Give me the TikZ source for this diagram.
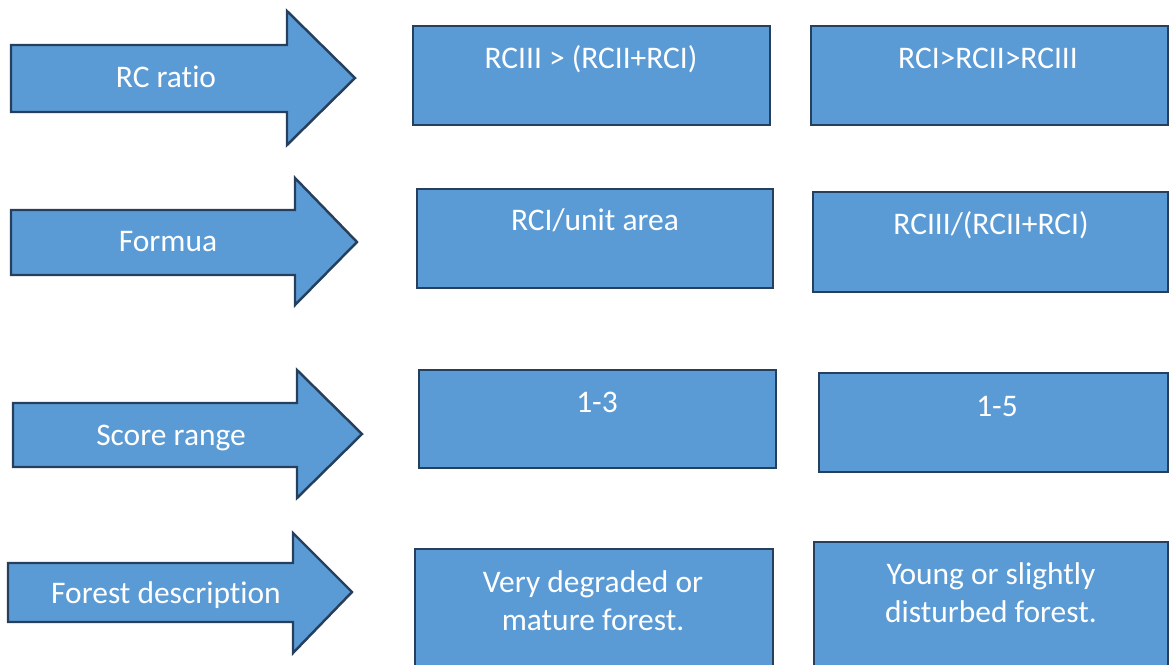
\documentclass[tikz,border=0pt]{standalone}
\usepackage{fontspec}
\setmainfont{Carlito}[Ligatures=NoCommon]
\usepackage{xcolor}
\usepackage{tikz}
\usetikzlibrary{fit}

\definecolor{shapeblue}{HTML}{5B9BD5}
\definecolor{shapeline}{HTML}{253F5C}

\begin{document}
\begin{tikzpicture}[x=0.02cm, y=-0.02cm]
\tikzset{
	arrow shape/.style = {draw = shapeline, fill = shapeblue, line width = 1.4pt, line join = miter},
	blue box/.style = {draw = shapeline, fill = shapeblue, line width = 1.4pt, inner sep = 0},
	white text/.style = {text = white, inner sep = 0, font = \fontsize{17.9}{21.6}\selectfont},
}

\useasboundingbox (0,0) rectangle (1171,664);
\clip (0,0) rectangle (1171,664);

% arrows on the left
\draw [arrow shape] (11,45) -- (287,45) -- (287,11) -- (355,78) -- (287,145) -- (287,112) -- (11,112) -- cycle;
\draw [arrow shape] (11,210) -- (295,210) -- (295,178) -- (357,242) -- (295,305) -- (295,275) -- (11,275) -- cycle;
\draw [arrow shape] (13,403) -- (297,403) -- (297,370) -- (362,434) -- (297,498) -- (297,467) -- (13,467) -- cycle;
\draw [arrow shape] (8,563) -- (293,563) -- (293,533) -- (352,592) -- (293,653) -- (293,622) -- (8,622) -- cycle;

\node(ratio)[white text, anchor = base] at (166,87) {RC ratio};
\node(formula)[white text, anchor = base] at (168,251) {Formua};
\node(score)[white text, anchor = base] at (171,445) {Score range};
\node(desc)[white text, anchor = base] at (166,603) {Forest description};

% boxes
\node(ratioA)[blue box, fit = {(413,26) (770,125)}]{};
\node(ratioB)[blue box, fit = {(811,26) (1168,125)}]{};
\node(formA)[blue box, fit = {(417,189) (773,288)}]{};
\node(formB)[blue box, fit = {(813,192) (1168,292)}]{};
\node(scoreA)[blue box, fit = {(419,370) (776,468)}]{};
\node(scoreB)[blue box, fit = {(819,373) (1168,472)}]{};
\node(descA)[blue box, fit = {(415,549) (773,680)}]{};
\node(descB)[blue box, fit = {(814,542) (1168,680)}]{};

\node(ratioAtxt)[white text, anchor = base] at (591,68) {RCIII > (RCII+RCI)};
\node(ratioBtxt)[white text, anchor = base] at (988,68) {RCI>RCII>RCIII};
\node(formAtxt)[white text, anchor = base] at (595,230) {RCI/unit area};
\node(formBtxt)[white text, anchor = base] at (991,234) {RCIII/(RCII+RCI)};
\node(scoreAtxt)[white text, anchor = base] at (597,412) {1-3};
\node(scoreBtxt)[white text, anchor = base] at (997,416) {1-5};
% base is the last line here
\node(descAtxt)[white text, anchor = base, align = center] at (593,630) {Very degraded or\\mature forest.};
\node(descBtxt)[white text, anchor = base, align = center] at (991,622) {Young or slightly\\disturbed forest.};

\end{tikzpicture}
\end{document}
